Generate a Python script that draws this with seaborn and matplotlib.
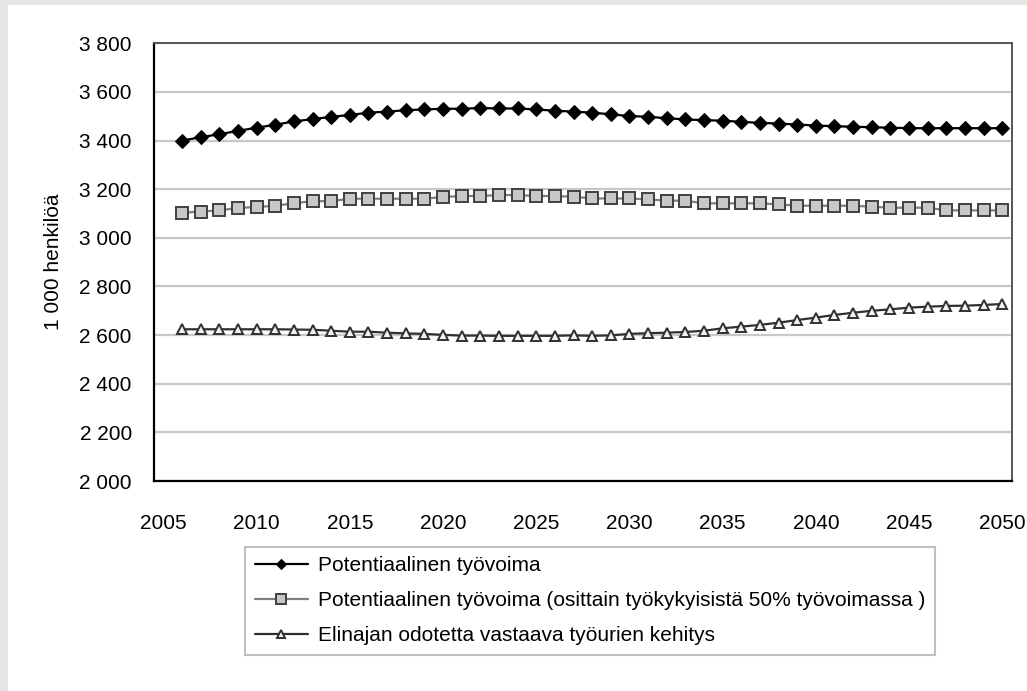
import numpy as np
import pandas as pd
import matplotlib
matplotlib.use("Agg")
import matplotlib.pyplot as plt
import seaborn as sns
from matplotlib.patches import Rectangle
from matplotlib.ticker import FuncFormatter

# data (1000 persons)
years = list(range(2006, 2051))

potential = [3400, 3414, 3426, 3440, 3453, 3465, 3479, 3488, 3498, 3505,
             3515, 3519, 3525, 3528, 3531, 3531, 3534, 3532, 3532, 3528,
             3523, 3519, 3515, 3508, 3501, 3498, 3492, 3487, 3484, 3482,
             3477, 3473, 3470, 3466, 3462, 3459, 3457, 3455, 3453, 3451,
             3451, 3451, 3451, 3451, 3451]

potential_partial = [3103, 3108, 3113, 3123, 3127, 3132, 3142, 3151, 3151, 3161,
                     3161, 3161, 3161, 3161, 3168, 3172, 3172, 3176, 3176, 3172,
                     3172, 3169, 3162, 3162, 3162, 3158, 3153, 3153, 3142, 3142,
                     3142, 3142, 3138, 3132, 3132, 3132, 3132, 3128, 3124, 3124,
                     3124, 3113, 3113, 3113, 3113]

life_exp = [2624, 2624, 2624, 2624, 2624, 2624, 2623, 2622, 2618, 2614,
            2614, 2610, 2607, 2605, 2601, 2598, 2598, 2597, 2597, 2597,
            2597, 2599, 2597, 2599, 2605, 2608, 2610, 2613, 2618, 2628,
            2635, 2642, 2651, 2662, 2672, 2683, 2692, 2700, 2706, 2713,
            2717, 2720, 2721, 2724, 2728]

labels = ["Potentiaalinen työvoima",
          "Potentiaalinen työvoima (osittain työkykyisistä 50% työvoimassa )",
          "Elinajan odotetta vastaava työurien kehitys"]

y_ticks = list(range(2000, 3801, 200))
x_labels = list(range(2005, 2051, 5))

df = pd.DataFrame({"year": years, "s1": potential, "s2": potential_partial, "s3": life_exp})

sns.set_style("white", {"text.color": "black", "axes.labelcolor": "black",
                        "xtick.color": "black", "ytick.color": "black"})
plt.rcParams['font.family'] = ['Liberation Sans', 'DejaVu Sans']

fig = plt.figure(figsize=(10.27, 6.91), dpi=100, facecolor="#e4e6e4")
fig.patches.append(Rectangle((8 / 1027, 0), 1, 1 - 5 / 691, transform=fig.transFigure,
                             facecolor="white", edgecolor="none", zorder=-10))
ax = fig.add_axes([0.15, 0.3039, 0.835, 0.6334])
ax.set_facecolor("white")

sns.lineplot(data=df, x="year", y="s1", ax=ax, color="black", lw=1.6,
             marker="D", markersize=7, markerfacecolor="black", markeredgecolor="black",
             label=labels[0])
sns.lineplot(data=df, x="year", y="s2", ax=ax, color="#7f7f7f", lw=1.6,
             marker="s", markersize=9, markerfacecolor="#c8c8c8", markeredgecolor="#404040",
             markeredgewidth=1.4, label=labels[1])
sns.lineplot(data=df, x="year", y="s3", ax=ax, color="#303030", lw=1.6,
             marker="^", markersize=7.5, markerfacecolor="#f2f2f2", markeredgecolor="#303030",
             markeredgewidth=1.4, label=labels[2])

ax.set_xlim(2004.5, 2050.5)
ax.set_ylim(2000, 3800)
ax.set_yticks(y_ticks)
ax.yaxis.set_major_formatter(FuncFormatter(lambda v, p: f"{int(v):,}".replace(",", " ")))
ax.set_xticks(x_labels)
ax.set_xticks(np.arange(2004.5, 2051, 1), minor=True)
ax.tick_params(axis="x", which="major", length=0, pad=24, labelsize=15, labelcolor="black")
ax.tick_params(axis="x", which="minor", length=6, width=1.5, direction="out", color="black")
ax.tick_params(axis="y", which="major", length=6, width=1.5, direction="out", pad=10,
               labelsize=15, color="black", labelcolor="black")
ax.grid(axis="y", color="#c8c8c8", lw=1.6)
ax.set_axisbelow(True)
ax.set_xlabel("")
ax.set_ylabel("1 000 henkilöä", fontsize=15, labelpad=12, color="black")

for s in ["left", "bottom"]:
    ax.spines[s].set_color("black")
    ax.spines[s].set_linewidth(1.6)
for s in ["top", "right"]:
    ax.spines[s].set_color("#555555")
    ax.spines[s].set_linewidth(1.4)

leg = ax.legend(loc="upper left", bbox_to_anchor=(0.239, 1 - 546.7 / 691),
                bbox_transform=fig.transFigure, borderaxespad=0, fontsize=15,
                frameon=True, fancybox=False, edgecolor="#b0b0b0", markerscale=0.75,
                handlelength=2.55, labelspacing=0.77, borderpad=0.45, handletextpad=0.5,
                labelcolor="black")
leg.get_frame().set_linewidth(1.5)

fig.savefig("out.png", dpi=100, facecolor=fig.get_facecolor())
